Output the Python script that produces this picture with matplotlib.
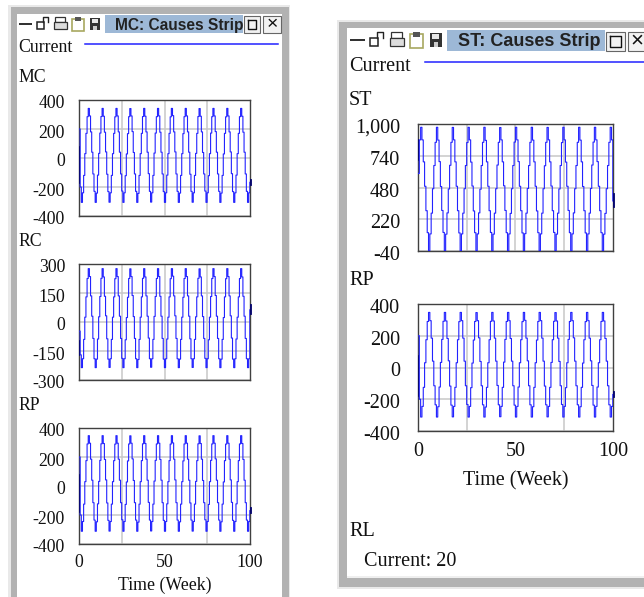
"""
Vensim style "Causes Strip" windows, two side by side.
Output: out.png
"""

import numpy as np
import matplotlib
matplotlib.use("Agg")
import matplotlib.pyplot as plt
from matplotlib.patches import Rectangle
from matplotlib.transforms import ScaledTranslation

plt.rcParams["path.simplify"] = False

W, H = 644, 597

# ─── DATA (one sample every 0.675 week) ──────────────────────────────────────

TIME_STEP = 0.675

MC = [
    200, -200, -306, -240, -120, 30, 170, 285, 342, 290, 180, 40,
    -110, -230, -306, -242, -118, 32, 172, 286, 342, 288, 178, 42,
    -112, -232, -305, -240, -120, 30, 170, 284, 342, 290, 180, 40,
    -110, -228, -306, -240, -122, 28, 168, 285, 341, 290, 182, 38,
    -110, -230, -306, -244, -120, 30, 170, 286, 342, 288, 180, 40,
    -108, -230, -304, -240, -120, 34, 172, 285, 342, 290, 178, 40,
    -110, -232, -306, -240, -118, 30, 170, 284, 342, 292, 180, 42,
    -110, -230, -306, -242, -120, 30, 168, 285, 342, 290, 180, 40,
    -112, -230, -305, -240, -120, 32, 170, 286, 341, 288, 180, 38,
    -110, -228, -306, -240, -122, 30, 172, 285, 342, 290, 182, 40,
    -110, -230, -306, -242, -120, 28, 170, 284, 342, 290, 180, 42,
    -108, -232, -306, -240, -118, 30, 170, 285, 342, 288, 178, 40,
    -110, -230, -306, -240, -168,
]

RC = [
    -47, -170, -236, -190, -90, 25, 130, 225, 276, 235, 135, 30,
    -85, -190, -236, -192, -88, 27, 132, 226, 276, 233, 133, 32,
    -87, -192, -235, -190, -90, 25, 130, 224, 276, 235, 135, 30,
    -85, -188, -236, -190, -92, 23, 128, 225, 275, 235, 137, 28,
    -85, -190, -236, -194, -90, 25, 130, 226, 276, 233, 135, 30,
    -83, -190, -234, -190, -90, 29, 132, 225, 276, 235, 133, 30,
    -85, -192, -236, -190, -88, 25, 130, 224, 276, 237, 135, 32,
    -85, -190, -236, -192, -90, 25, 128, 225, 276, 235, 135, 30,
    -87, -190, -235, -190, -90, 27, 130, 226, 275, 233, 135, 28,
    -85, -188, -236, -190, -92, 25, 132, 225, 276, 235, 137, 30,
    -85, -190, -236, -192, -90, 23, 130, 224, 276, 235, 135, 32,
    -83, -192, -236, -190, -88, 25, 130, 225, 276, 233, 133, 30,
    -85, -190, -236, -190, 63,
]

RP_VALUES = [
    200, -200, -312, -245, -125, 30, 175, 290, 347, 295, 185, 40,
    -115, -235, -312, -247, -123, 32, 177, 291, 347, 293, 183, 42,
    -117, -237, -311, -245, -125, 30, 175, 289, 347, 295, 185, 40,
    -115, -233, -312, -245, -127, 28, 173, 290, 346, 295, 187, 38,
    -115, -235, -312, -249, -125, 30, 175, 291, 347, 293, 185, 40,
    -113, -235, -310, -245, -125, 34, 177, 290, 347, 295, 183, 40,
    -115, -237, -312, -245, -123, 30, 175, 289, 347, 297, 185, 42,
    -115, -235, -312, -247, -125, 30, 173, 290, 347, 295, 185, 40,
    -117, -235, -311, -245, -125, 32, 175, 291, 346, 293, 185, 38,
    -115, -233, -312, -245, -127, 30, 177, 290, 347, 295, 187, 40,
    -115, -235, -312, -247, -125, 28, 175, 289, 347, 295, 185, 42,
    -113, -237, -312, -245, -123, 30, 175, 290, 347, 293, 183, 40,
    -115, -235, -312, -245, -170,
]

ST = [
    595, 870, 973, 870, 690, 490, 290, 110, -40, 100, 270, 470,
    660, 850, 973, 868, 692, 488, 292, 112, -40, 98, 272, 468,
    662, 850, 972, 870, 690, 490, 290, 108, -40, 100, 270, 470,
    660, 848, 973, 870, 688, 492, 288, 110, -38, 100, 272, 466,
    660, 850, 973, 866, 690, 490, 290, 112, -40, 98, 270, 470,
    664, 850, 971, 870, 690, 494, 292, 110, -40, 100, 268, 470,
    660, 852, 973, 870, 692, 490, 290, 108, -40, 102, 270, 472,
    660, 850, 973, 868, 690, 490, 288, 110, -40, 100, 270, 470,
    658, 850, 972, 870, 690, 492, 290, 112, -38, 98, 270, 468,
    660, 848, 973, 870, 688, 490, 292, 110, -40, 100, 272, 470,
    660, 850, 973, 868, 690, 488, 290, 108, -40, 100, 270, 472,
    664, 852, 973, 870, 692, 490, 290, 110, -40, 98, 268, 470,
    660, 850, 973, 870, 370,
]

# dark overlay at the start of each run and the short tick past the last week
MC_START, MC_END = [78, -175], [-153, -183]
RC_START, RC_END = [-99, -170], [87, 39]
RP_START, RP_END = [75, -180], [-155, -185]
ST_START, ST_END = [870, 704], [425, 321]

MC_TICKS = [400, 200, 0, -200, -400]
RC_TICKS = [300, 150, 0, -150, -300]
RP_TICKS = [400, 200, 0, -200, -400]
ST_TICKS = [1000, 740, 480, 220, -40]
X_TICKS = [0, 50, 100]
X_GRID = [25, 50, 75]

SERIF = "Liberation Serif"
BLUE = "#2222ff"
FRAME = "#b2b2b2"
TITLE_BG = "#9db8d6"

fig = plt.figure(figsize=(W / 100, H / 100), dpi=100, facecolor="white")
chrome = fig.add_axes([0, 0, 1, 1])
chrome.set_xlim(0, W)
chrome.set_ylim(H, 0)
chrome.axis("off")


def box(x0, y0, x1, y1, **kw):
    kw.setdefault("linewidth", 0)
    chrome.add_patch(Rectangle((x0, y0), x1 - x0, y1 - y0, **kw))


# ─── WINDOW FRAME AND TOOLBAR ────────────────────────────────────────────────

def draw_icons(x, y, s):
    """Toolbar glyphs, x = left edge of first icon, y = vertical centre."""
    k = {"color": "#222222"}
    box(x, y - 1.3 * s, x + 13 * s, y + 1.3 * s, color="#333333")
    # lock
    box(x + 18 * s, y - 2 * s, x + 25 * s, y + 5 * s, facecolor="white", edgecolor="#222222", linewidth=1.1)
    chrome.plot([x + 24 * s, x + 24 * s, x + 29 * s, x + 29 * s],
                [y - 2 * s, y - 7 * s, y - 7 * s, y - 2 * s], lw=1, **k)
    # printer
    box(x + 36 * s, y - 7 * s, x + 46 * s, y - 2 * s, facecolor="white", edgecolor="#333333", linewidth=0.9)
    box(x + 35 * s, y - 2 * s, x + 48 * s, y + 5 * s, facecolor="#dddddd", edgecolor="#333333", linewidth=0.9)
    # clipboard
    box(x + 53 * s, y - 5 * s, x + 65 * s, y + 7 * s, facecolor="white", edgecolor="#a8a860", linewidth=1.2)
    box(x + 56 * s, y - 7 * s, x + 62 * s, y - 3 * s, color="#555555")
    # floppy
    box(x + 71 * s, y - 6 * s, x + 81 * s, y + 6 * s, color="#333333")
    box(x + 73 * s, y - 5 * s, x + 79 * s, y - 1 * s, color="#e8e8e8")
    box(x + 74 * s, y + 2 * s, x + 78 * s, y + 6 * s, color="#cccccc")


def draw_button(x0, y0, x1, y1):
    box(x0, y0, x1, y1, facecolor="#f2f2f2", edgecolor="#666666", linewidth=0.8)


# left window
box(8, 5, 290, H, color="#e9e9e9")
box(11, 7, 289, H, color=FRAME)
box(17, 14, 282, H, color="white")
box(105, 15, 243, 33, color=TITLE_BG)
draw_icons(19, 24, 1.0)
draw_button(244, 16, 260, 33)
chrome.plot([248, 256, 256, 248, 248], [20, 20, 29, 29, 20], color="#111111", lw=1)
draw_button(263, 16, 281, 33)
chrome.text(272, 24.5, "\u00d7", ha="center", va="center", fontsize=14, color="#111111", family="Liberation Sans")
chrome.text(115, 25.5, "MC: Causes Strip", ha="left", va="center", fontsize=11.2, fontweight="bold",
            family="Liberation Sans", color="#222222", clip_on=True)
chrome.plot([85, 278], [44, 44], color=BLUE, lw=1.1)

# right window
box(337, 20, W, 589, color="#e9e9e9")
box(339, 22, W, 587, color=FRAME)
box(347, 28, W, 578, color="#efefef")
box(347, 28, W, 576, color="white")
box(447, 30, 605, 51, color=TITLE_BG)
draw_icons(350, 40, 1.13)
draw_button(606, 32, 625, 51)
chrome.plot([610, 621, 621, 610, 610], [36, 36, 47, 47, 36], color="#111111", lw=1)
draw_button(628, 32, 650, 51)
chrome.text(637, 41, "\u00d7", ha="center", va="center", fontsize=16, color="#111111", family="Liberation Sans")
chrome.text(458, 41.5, "ST: Causes Strip", ha="left", va="center", fontsize=13, fontweight="bold",
            family="Liberation Sans", color="#222222")
chrome.plot([425, W], [62, 62], color=BLUE, lw=1.1)

LEFT_SIZE, RIGHT_SIZE = 12.8, 14.5
for txt, x, y, fs in [
    ("Current", 18, 48, LEFT_SIZE), ("MC", 18, 78, LEFT_SIZE),
    ("RC", 18, 242, LEFT_SIZE), ("RP", 18, 406, LEFT_SIZE),
    ("Current", 349, 66.5, RIGHT_SIZE), ("ST", 349, 100.5, RIGHT_SIZE),
    ("RP", 349, 280.5, RIGHT_SIZE), ("RL", 349, 531, RIGHT_SIZE),
    ("Current: 20", 364, 561, RIGHT_SIZE),
]:
    chrome.text(x, y, txt, ha="left", va="center", family=SERIF, fontsize=fs, color="#111111")


# ─── STRIP PLOTS ─────────────────────────────────────────────────────────────

def strip(box_px, values, start, end, yticks, fs, labels=False, ytxt=None, ypad=10, xpad=7, labelpad=4):
    x0, y0, x1, y1 = box_px
    ax = fig.add_axes([x0 / W, 1 - y1 / H, (x1 - x0) / W, (y1 - y0) / H])
    time = np.arange(len(values)) * TIME_STEP
    line, = ax.plot(time, values, color=BLUE, lw=0.8, drawstyle="steps-post", zorder=3)
    line.set_snap(False)
    ax.plot([0, 0], start, color="#00006e", lw=1.2, zorder=4)
    ax.plot([100.6, 100.6], end, color="#00006e", lw=1.3, clip_on=False, zorder=4)

    ax.set_xlim(0, 100)
    ax.set_ylim(yticks[-1], yticks[0])
    ax.set_yticks(yticks)
    ax.set_yticklabels(ytxt if ytxt else [str(t) for t in yticks], family=SERIF, fontsize=fs, color="#111111")
    ax.set_xticks(X_GRID, minor=True)
    ax.set_xticks(X_TICKS if labels else [])
    if labels:
        ax.set_xticklabels([str(t) for t in X_TICKS], family=SERIF, fontsize=fs, color="#111111")
        ax.set_xlabel("Time (Week)", family=SERIF, fontsize=fs, color="#111111", labelpad=labelpad)
    ax.tick_params(axis="both", which="both", length=0)
    ax.tick_params(axis="y", pad=ypad)
    ax.tick_params(axis="x", pad=xpad)
    ax.grid(True, axis="y", color="#c8c8c8", lw=1.1, zorder=1)
    ax.grid(True, axis="x", which="minor", color="#c8c8c8", lw=1.1, zorder=1)
    ax.set_axisbelow(True)
    for s in ax.spines.values():
        s.set_color("#404040")
        s.set_linewidth(1.0)
    # labels hang a couple of pixels lower than their grid line
    nudge = ScaledTranslation(0, -2 / 100, fig.dpi_scale_trans)
    for lab in ax.get_yticklabels():
        lab.set_transform(lab.get_transform() + nudge)
    return ax


strip((79, 100, 250, 216), MC, MC_START, MC_END, MC_TICKS, LEFT_SIZE)
strip((79, 264, 250, 380), RC, RC_START, RC_END, RC_TICKS, LEFT_SIZE)
strip((79, 428, 250, 544), RP_VALUES, RP_START, RP_END, RP_TICKS, LEFT_SIZE, labels=True)
strip((418, 124, 613, 251), ST, ST_START, ST_END, ST_TICKS, RIGHT_SIZE, ypad=13,
      ytxt=["1,000", "740", "480", "220", "-40"])
strip((418, 304, 613, 431), RP_VALUES, RP_START, RP_END, RP_TICKS, RIGHT_SIZE, labels=True, ypad=13,
      xpad=8, labelpad=7)

fig.savefig("out.png", dpi=100)
plt.close(fig)
